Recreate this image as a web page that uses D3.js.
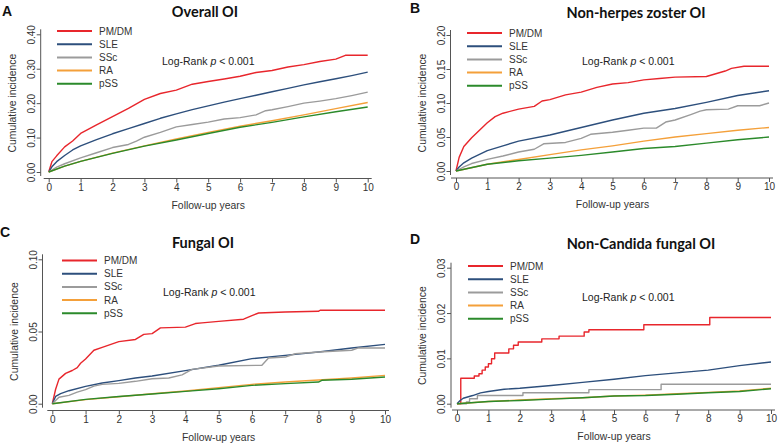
<!DOCTYPE html>
<html><head><meta charset="utf-8">
<script src="https://cdn.jsdelivr.net/npm/d3@7"></script>
<style>
body{margin:0;background:#fff;}
svg{display:block;}
</style></head>
<body>
<svg id="chart" width="778" height="447"></svg>
<script>
// ---------- DATA ----------
const seriesNames = ["PM/DM", "SLE", "SSc", "RA", "pSS"];
const panelLetters = ["A", "B", "C", "D"];
const panelTitles = ["Overall OI", "Non-herpes zoster OI", "Fungal OI", "Non-Candida fungal OI"];
const xTickValues = [0, 1, 2, 3, 4, 5, 6, 7, 8, 9, 10];
const yTicksA = [0, 0.10, 0.20, 0.30, 0.40];
const yTicksB = [0, 0.05, 0.10, 0.15, 0.20];
const yTicksC = [0, 0.05, 0.10];
const yTicksD = [0, 0.01, 0.02, 0.03];
const xLabel = "Follow-up years";
const yLabel = "Cumulative incidence";

// Panel A: Overall OI
const overallPMDM = [[0,0],[0.1,0.03],[0.25,0.047],[0.5,0.073],[0.75,0.09],[1,0.112],[1.5,0.137],[2,0.161],[2.5,0.185],[3,0.211],[3.5,0.228],[4,0.238],[4.5,0.255],[5,0.263],[5.5,0.27],[6,0.278],[6.5,0.289],[7,0.295],[7.5,0.305],[8,0.312],[8.5,0.321],[9,0.328],[9.3,0.339],[10,0.339]];
const overallSLE = [[0,0],[0.1,0.015],[0.25,0.03],[0.5,0.048],[0.75,0.064],[1,0.076],[1.5,0.094],[2,0.111],[2.5,0.126],[3,0.141],[3.5,0.156],[4,0.169],[4.5,0.181],[5,0.192],[5.5,0.203],[6,0.213],[6.5,0.223],[7,0.233],[7.5,0.243],[8,0.253],[8.5,0.262],[9,0.271],[9.5,0.28],[10,0.29]];
const overallSSc = [[0,0],[0.25,0.014],[0.5,0.024],[1,0.041],[1.5,0.056],[2,0.071],[2.5,0.08],[2.75,0.09],[3,0.101],[3.5,0.115],[4,0.131],[4.5,0.138],[5,0.145],[5.5,0.154],[6,0.158],[6.5,0.166],[6.8,0.178],[7,0.181],[7.5,0.19],[8,0.2],[8.5,0.206],[9,0.213],[9.5,0.222],[10,0.232]];
const overallRA = [[0,0],[0.5,0.017],[1,0.031],[2,0.055],[3,0.076],[4,0.096],[5,0.115],[6,0.133],[7,0.149],[8,0.166],[9,0.184],[10,0.202]];
const overallPSS = [[0,0],[0.5,0.017],[1,0.031],[2,0.054],[3,0.075],[4,0.093],[5,0.112],[6,0.13],[7,0.144],[8,0.16],[9,0.175],[10,0.189]];

// Panel B: Non-herpes zoster OI
const nonHzPMDM = [[0,0],[0.1,0.02],[0.25,0.036],[0.5,0.049],[0.75,0.06],[1,0.071],[1.25,0.08],[1.5,0.085],[2,0.091],[2.5,0.095],[2.75,0.103],[3,0.105],[3.5,0.112],[4,0.116],[4.5,0.123],[5,0.128],[5.5,0.13],[6,0.134],[6.5,0.136],[7,0.138],[8,0.139],[8.3,0.143],[8.6,0.147],[8.8,0.151],[9.2,0.154],[10,0.154]];
const nonHzSLE = [[0,0],[0.1,0.006],[0.25,0.012],[0.5,0.019],[1,0.03],[1.5,0.037],[2,0.044],[3,0.053],[4,0.064],[5,0.075],[6,0.085],[7,0.092],[8,0.101],[9,0.111],[10,0.118]];
const nonHzSSc = [[0,0],[0.25,0.006],[0.5,0.011],[1,0.017],[1.5,0.022],[2,0.028],[2.5,0.032],[2.8,0.04],[3.5,0.042],[4,0.048],[4.3,0.054],[5,0.057],[5.5,0.06],[6,0.063],[6.4,0.063],[6.7,0.072],[7,0.075],[7.5,0.083],[7.8,0.088],[8,0.09],[8.7,0.091],[9,0.096],[9.7,0.096],[10,0.1]];
const nonHzRA = [[0,0],[1,0.01],[2,0.017],[3,0.024],[4,0.031],[5,0.037],[6,0.044],[7,0.05],[8,0.055],[9,0.06],[10,0.064]];
const nonHzPSS = [[0,0],[1,0.01],[2,0.015],[3,0.019],[4,0.023],[5,0.028],[6,0.033],[7,0.036],[8,0.041],[9,0.046],[10,0.05]];

// Panel C: Fungal OI
const fungalPMDM = [[0,0],[0.1,0.01],[0.2,0.017],[0.4,0.021],[0.6,0.023],[0.75,0.025],[0.85,0.028],[1,0.031],[1.25,0.037],[1.5,0.039],[2,0.043],[2.5,0.0445],[2.75,0.048],[3,0.0485],[3.25,0.0525],[4,0.053],[4.3,0.0555],[4.5,0.056],[5,0.057],[5.75,0.0585],[6,0.061],[6.2,0.0628],[7,0.0635],[8,0.064],[8.05,0.0647],[10,0.0647]];
const fungalSLE = [[0,0],[0.1,0.005],[0.25,0.007],[0.5,0.009],[1,0.012],[1.5,0.0143],[2,0.016],[2.5,0.0178],[3,0.0192],[4,0.0229],[5,0.0266],[6,0.0312],[7,0.0335],[8,0.0358],[9,0.0386],[10,0.0411]];
const fungalSSc = [[0,0],[0.2,0.0045],[0.5,0.0058],[0.75,0.008],[1,0.0097],[1.25,0.0122],[1.5,0.0134],[2,0.0141],[2.5,0.0155],[3,0.0173],[3.5,0.0178],[3.9,0.02],[4.2,0.0238],[5,0.0261],[6.3,0.0266],[6.5,0.0316],[7,0.0323],[7.3,0.0346],[8,0.0358],[9,0.037],[9.2,0.0386],[10,0.0386]];
const fungalRA = [[0,0],[1,0.0028],[2,0.0048],[3,0.0069],[4,0.0088],[5,0.0111],[6,0.0134],[7,0.015],[8,0.0164],[9,0.0178],[10,0.0196]];
const fungalPSS = [[0,0],[1,0.003],[2,0.005],[3,0.0067],[4,0.0085],[5,0.0104],[6,0.0127],[7,0.0139],[8,0.015],[8.1,0.0162],[9,0.0169],[10,0.0185]];

// Panel D: Non-Candida fungal OI
const nonCandPMDM = [[0,0],[0.12,0.0056],[0.55,0.0061],[0.7,0.0066],[0.8,0.0074],[0.9,0.0081],[1,0.0088],[1.1,0.0099],[1.2,0.0112],[1.65,0.0121],[1.8,0.0129],[1.95,0.0136],[2.7,0.0143],[3.25,0.0149],[4.05,0.0158],[4.2,0.0163],[5.95,0.0174],[8.05,0.019],[10,0.019]];
const nonCandSLE = [[0,0],[0.1,0.0007],[0.2,0.0012],[0.5,0.0018],[0.75,0.0024],[1,0.0027],[1.5,0.0032],[2,0.0034],[3,0.004],[4,0.0047],[5,0.0054],[6,0.0062],[7,0.0068],[8,0.0074],[9,0.0084],[10,0.0092]];
const nonCandSSc = [[0,0],[0.3,0.0004],[0.4,0.0011],[0.65,0.0018],[2.1,0.0024],[4.2,0.0031],[6.5,0.0043],[10,0.0043]];
const nonCandRA = [[0,0],[1,0.0005],[2,0.0008],[3,0.0011],[4,0.0013],[5,0.0017],[6,0.0019],[7,0.0022],[8,0.0025],[9,0.0028],[10,0.0034]];
const nonCandPSS = [[0,0],[1,0.0005],[2,0.0007],[3,0.001],[4,0.0013],[5,0.0017],[6,0.0018],[7,0.0021],[8,0.0024],[9,0.0027],[10,0.0033]];

// ---------- STYLE / LAYOUT ----------
const colors = ["#e8262c", "#2d4f7c", "#9b9b9b", "#f4a03a", "#2b8a2b"];
const panels = [
  {series:[overallPMDM, overallSLE, overallSSc, overallRA, overallPSS], yTicks:yTicksA, fmt:".2f", steps:[],
   x0:48.7, x1:367.7, yb:172, yt:34.3, yAxisX:40.7, xAxisY:178.5,
   letter:[2,16], title:[205,17], legX:57, legY:31, logRank:[162,61]},
  {series:[nonHzPMDM, nonHzSLE, nonHzSSc, nonHzRA, nonHzPSS], yTicks:yTicksB, fmt:".2f", steps:[],
   x0:456, x1:769, yb:171, yt:35, yAxisX:450.5, xAxisY:178,
   letter:[410,13], title:[636,18], legX:467, legY:33, logRank:[582,61]},
  {series:[fungalPMDM, fungalSLE, fungalSSc, fungalRA, fungalPSS], yTicks:yTicksC, fmt:".2f", steps:[],
   x0:52.3, x1:385, yb:403.7, yt:259.3, yAxisX:42.5, xAxisY:410.5,
   letter:[0,237], title:[203,248], legX:62, legY:260.5, logRank:[163,292]},
  {series:[nonCandPMDM, nonCandSLE, nonCandSSc, nonCandRA, nonCandPSS], yTicks:yTicksD, fmt:".2f", steps:[0,2],
   x0:457, x1:771, yb:403.7, yt:267.7, yAxisX:451, xAxisY:410,
   letter:[410,244], title:[641,249], legX:468, legY:266, logRank:[582,297]}
];

const svg = d3.select("#chart");
const axisColor = "#555";
const textColor = "#333";
const sans = "'Liberation Sans', Arial, sans-serif";

panels.forEach((p, i) => {
  const g = svg.append("g");
  const yMax = p.yTicks[p.yTicks.length - 1];
  const x = d3.scaleLinear().domain([0, 10]).range([p.x0, p.x1]);
  const y = d3.scaleLinear().domain([0, yMax]).range([p.yb, p.yt]);

  // x axis
  const xAx = g.append("g").attr("transform", `translate(0,${p.xAxisY})`)
    .call(d3.axisBottom(x).tickValues(xTickValues).tickFormat(d3.format("d")).tickSize(4).tickSizeOuter(0).tickPadding(1));
  xAx.select(".domain").attr("d", `M${p.x0 - 5},0H${p.x1 + 4}`);
  // y axis
  const yAx = g.append("g").attr("transform", `translate(${p.yAxisX},0)`)
    .call(d3.axisLeft(y).tickValues(p.yTicks).tickFormat(d3.format(p.fmt)).tickSize(4).tickSizeOuter(0).tickPadding(3));
  yAx.select(".domain").attr("d", `M0,${p.yt - 5}V${p.yb + 4}`);
  [xAx, yAx].forEach(ax => {
    ax.selectAll(".domain").attr("stroke", axisColor).attr("stroke-width", 1);
    ax.selectAll(".tick line").attr("stroke", axisColor);
    ax.selectAll("text").attr("fill", textColor).style("font-family", sans).style("font-size", "10px");
  });
  yAx.selectAll(".tick text")
    .attr("text-anchor", "middle").attr("dy", null).attr("x", null)
    .attr("transform", "translate(-9.5,0) rotate(-90)")
    .attr("dominant-baseline", "central");

  // axis titles
  g.append("text").attr("x", (p.x0 + p.x1) / 2).attr("y", p.xAxisY + 30)
    .attr("text-anchor", "middle").attr("fill", textColor)
    .style("font-family", sans).style("font-size", "10.4px").text(xLabel);
  g.append("text").attr("transform", `translate(${p.yAxisX - 25},${(p.yb + p.yt) / 2}) rotate(-90)`)
    .attr("text-anchor", "middle").attr("fill", textColor)
    .style("font-family", sans).style("font-size", "10.4px").text(yLabel);

  // curves
  p.series.forEach((data, k) => {
    const line = d3.line().x(d => x(d[0])).y(d => y(d[1]))
      .curve(p.steps.includes(k) ? d3.curveStepAfter : d3.curveLinear);
    g.append("path").datum(data).attr("d", line)
      .attr("fill", "none").attr("stroke", colors[k]).attr("stroke-width", 1.4)
      .attr("stroke-linejoin", "round");
  });

  // legend
  seriesNames.forEach((name, k) => {
    const ly = p.legY + k * 13.2;
    g.append("line").attr("x1", p.legX).attr("x2", p.legX + 35).attr("y1", ly).attr("y2", ly)
      .attr("stroke", colors[k]).attr("stroke-width", 2);
    g.append("text").attr("x", p.legX + 42).attr("y", ly).attr("dominant-baseline", "central")
      .attr("fill", textColor).style("font-family", sans).style("font-size", "10px").text(name);
  });

  // log-rank
  const lr = g.append("text").attr("x", p.logRank[0]).attr("y", p.logRank[1])
    .attr("dominant-baseline", "central").attr("fill", "#222")
    .style("font-family", sans).style("font-size", "10.5px");
  lr.append("tspan").text("Log-Rank ");
  lr.append("tspan").style("font-style", "italic").text("p");
  lr.append("tspan").text(" < 0.001");

  // title & letter
  g.append("text").attr("x", p.title[0]).attr("y", p.title[1]).attr("text-anchor", "middle")
    .attr("fill", "#111").style("font-family", "Lato, 'Open Sans', sans-serif").style("font-weight", "bold")
    .style("font-size", "14.5px").text(panelTitles[i]);
  g.append("text").attr("x", p.letter[0]).attr("y", p.letter[1])
    .attr("fill", "#111").style("font-family", sans).style("font-weight", "bold")
    .style("font-size", "14px").text(panelLetters[i]);
});
</script>
</body></html>
